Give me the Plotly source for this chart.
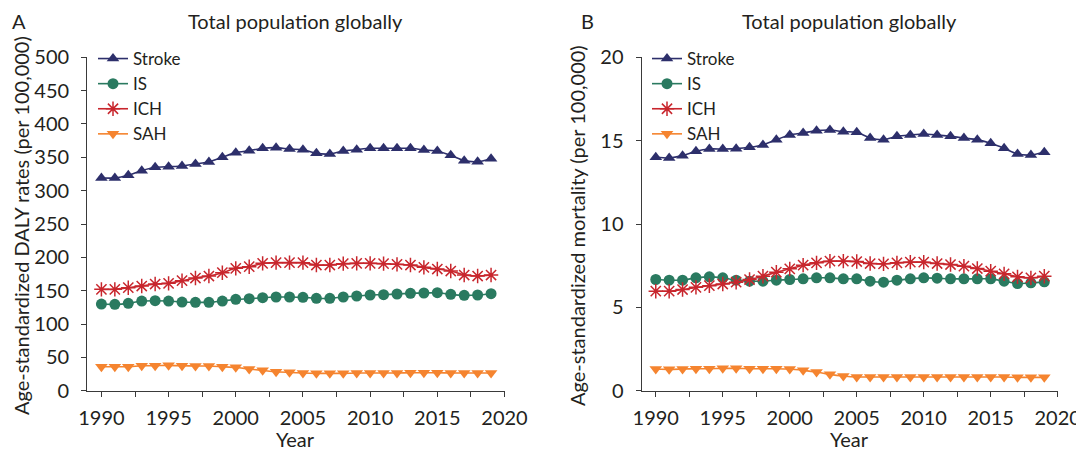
import plotly.graph_objects as go

years = list(range(1990, 2020))

# Panel A: Age-standardized DALY rates (per 100,000)
daly_stroke = [319, 319, 323, 330, 335, 336, 337, 340, 343, 350, 357, 360, 363.5, 364.5, 362.5,
               361.5, 356, 355, 359.5, 361.5, 363.5, 363.5, 363.5, 363.5, 361, 359.5, 353, 345, 343.5, 348]
daly_is = [130, 129.5, 131, 134.5, 135, 134.5, 133, 132.5, 132.5, 134.5, 137, 138, 139.5, 140.5, 140.5,
           140, 138.5, 138.5, 140.5, 142, 143.5, 144, 145, 146, 146.5, 147, 144.5, 143, 143.5, 145.5]
daly_ich = [152, 152, 154.5, 157, 160, 161, 165, 169, 172, 177, 183.5, 186, 191, 192, 192,
            192, 188.5, 188.5, 190.5, 191, 191, 190.5, 189.5, 188.5, 185, 182.5, 179.5, 173.5, 172, 173.5]
daly_sah = [36, 36, 36, 37.5, 37.5, 38, 37.5, 37, 37, 36, 35, 32.5, 30.5, 28.5, 27.5,
            26.5, 26, 26, 26, 26.5, 26.5, 26.5, 26.5, 27, 27, 27, 26.5, 26.5, 26.5, 26.5]

# Panel B: Age-standardized mortality (per 100,000)
mort_stroke = [14.0, 13.96, 14.1, 14.36, 14.5, 14.5, 14.52, 14.6, 14.74, 15.06, 15.34, 15.46, 15.6, 15.64, 15.54,
               15.5, 15.16, 15.06, 15.26, 15.34, 15.4, 15.34, 15.26, 15.16, 15.06, 14.84, 14.54, 14.2, 14.14, 14.3]
mort_is = [6.67, 6.63, 6.63, 6.77, 6.83, 6.77, 6.63, 6.57, 6.57, 6.63, 6.67, 6.71, 6.77, 6.77, 6.71,
           6.71, 6.57, 6.51, 6.63, 6.71, 6.77, 6.75, 6.71, 6.71, 6.71, 6.71, 6.57, 6.43, 6.47, 6.53]
mort_ich = [5.97, 5.97, 6.07, 6.2, 6.3, 6.4, 6.51, 6.67, 6.87, 7.11, 7.31, 7.53, 7.67, 7.77, 7.77,
            7.75, 7.63, 7.61, 7.67, 7.71, 7.71, 7.63, 7.57, 7.47, 7.33, 7.17, 7.01, 6.83, 6.77, 6.87]
mort_sah = [1.3, 1.28, 1.3, 1.32, 1.32, 1.34, 1.34, 1.32, 1.32, 1.32, 1.3, 1.22, 1.12, 0.98, 0.88,
            0.82, 0.82, 0.82, 0.82, 0.82, 0.82, 0.82, 0.82, 0.82, 0.82, 0.82, 0.82, 0.8, 0.8, 0.8]

names = ["Stroke", "IS", "ICH", "SAH"]
colors = ["#2d2f6b", "#2a7a60", "#c8262d", "#f5842f"]
symbols = ["triangle-up", "circle", "asterisk-open", "triangle-down"]
sizes = [11, 11, 12, 11]

FONT = "Lato, 'Open Sans', sans-serif"
TXT = "#231f20"
AX = "#3a3a3a"
FS = 20

# the page body has an 8px default margin; size the figure so it fills the window
OFF = 8
W, H = 1084 - OFF, 452 - OFF


def px(x):
    return (x - OFF) / W


def py(y):
    return 1 - (y - OFF) / H


fig = go.Figure()

panels = [
    ([daly_stroke, daly_is, daly_ich, daly_sah], "x", "y", "legend"),
    ([mort_stroke, mort_is, mort_ich, mort_sah], "x2", "y2", "legend2"),
]
for series, xa, ya, lg in panels:
    for name, vals, c, s, sz in zip(names, series, colors, symbols, sizes):
        marker = dict(symbol=s, size=sz, color=c)
        if s == "asterisk-open":
            marker["line"] = dict(color=c, width=1.5)
        fig.add_trace(go.Scatter(
            x=years, y=vals, name=name, mode="lines+markers",
            line=dict(color=c, width=1.6, shape="spline", smoothing=0.6),
            marker=marker, xaxis=xa, yaxis=ya, legend=lg,
        ))

xcommon = dict(range=[1988.95, 2020], tick0=1990, dtick=5, ticks="outside", ticklen=5,
               tickwidth=1.2, tickcolor=AX, showline=True, linecolor=AX, linewidth=1.3,
               showgrid=False, zeroline=False, tickfont=dict(family=FONT, size=FS, color=TXT),
               minor=dict(dtick=2.5, tick0=1990, ticks="outside", ticklen=5, tickwidth=1.2,
                          tickcolor=AX, showgrid=False),
               ticklabelstandoff=4)
ycommon = dict(ticks="outside", ticklen=5, tickwidth=1.2, tickcolor=AX, showline=True,
               linecolor=AX, linewidth=1.3, showgrid=False, zeroline=False,
               tickfont=dict(family=FONT, size=FS, color=TXT), ticklabelstandoff=8)

ydom = [py(390.7), py(57.3)]
x1dom = [px(87.3), px(504.5)]
x2dom = [px(641.7), px(1057.7)]

legcommon = dict(font=dict(family=FONT, size=17, color=TXT), bgcolor="rgba(0,0,0,0)",
                 xanchor="left", yanchor="top", tracegroupgap=0, itemwidth=30)

fig.update_layout(
    width=W, height=H, autosize=False,
    margin=dict(l=0, r=0, t=0, b=0, autoexpand=False),
    paper_bgcolor="white", plot_bgcolor="white",
    xaxis=dict(domain=x1dom, anchor="y", **xcommon),
    yaxis=dict(domain=ydom, anchor="x", range=[0, 500], dtick=50, **ycommon),
    xaxis2=dict(domain=x2dom, anchor="y2", **xcommon),
    yaxis2=dict(domain=ydom, anchor="x2", range=[0, 20], dtick=5, **ycommon),
    legend=dict(x=px(93), y=py(41), **legcommon),
    legend2=dict(x=px(647), y=py(41), **legcommon),
    showlegend=True,
)

ann = [
    dict(text="A", x=px(10), y=py(21), xanchor="left"),
    dict(text="B", x=px(579), y=py(21), xanchor="left"),
    dict(text="Total population globally", x=px((87.3 + 504.5) / 2), y=py(21), xanchor="center"),
    dict(text="Total population globally", x=px((641.7 + 1057.7) / 2), y=py(21), xanchor="center"),
    dict(text="Year", x=px((87.3 + 504.5) / 2), y=py(439), xanchor="center"),
    dict(text="Year", x=px((641.7 + 1057.7) / 2), y=py(439), xanchor="center"),
    dict(text="Age-standardized DALY rates (per 100,000)", x=px(21), y=py(226),
         xanchor="center", textangle=-90),
    dict(text="Age-standardized mortality (per 100,000)", x=px(577), y=py(226),
         xanchor="center", textangle=-90),
]
for a in ann:
    fig.add_annotation(xref="paper", yref="paper", showarrow=False, yanchor="middle",
                       font=dict(family=FONT, size=FS, color=TXT), **a)

fig.write_html("out.html")
